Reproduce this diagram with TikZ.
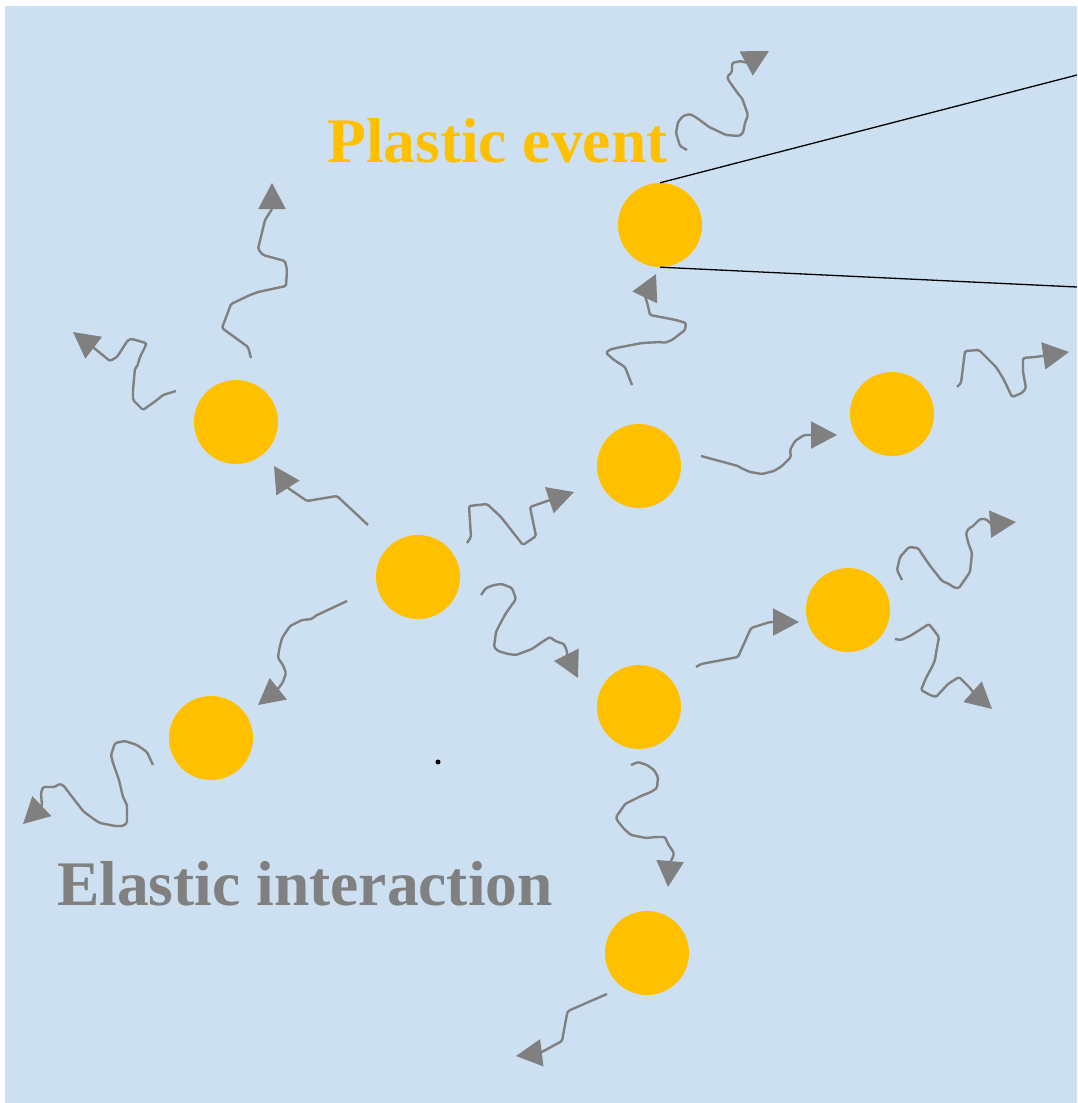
\documentclass[tikz,border=0pt]{standalone}
\usepackage{fontspec}
\setmainfont{Liberation Serif}
\usetikzlibrary{arrows.meta}
\definecolor{panel}{RGB}{204,224,241}
\definecolor{grain}{RGB}{255,192,0}
\definecolor{wavegray}{RGB}{128,128,128}
\tikzset{
  grainnode/.style={circle, fill=grain, draw=none, minimum size=84pt, inner sep=0pt},
  wave/.style={draw=wavegray, line width=2.4pt, line join=round, rounded corners=1.5pt,
    -{Triangle[length=26pt,width=27pt]}},
  zoomline/.style={draw=black, line width=1.3pt},
  label/.style={inner sep=0pt, anchor=base west, font=\bfseries\fontsize{63.5}{70}\selectfont}
}
\begin{document}
\begin{tikzpicture}[x=1pt, y=-1pt]
\useasboundingbox (0,0) rectangle (1077,1103);
\fill[panel] (5,6) rectangle (1077,1103);

% grains
\node[grainnode] (c1) at (660,225) {};
\node[grainnode] (c2) at (236,422) {};
\node[grainnode] (c3) at (418,577) {};
\node[grainnode] (c4) at (639,466) {};
\node[grainnode] (c5) at (892,414) {};
\node[grainnode] (c6) at (211,738) {};
\node[grainnode] (c7) at (639,707) {};
\node[grainnode] (c8) at (848,610) {};
\node[grainnode] (c9) at (647,953) {};

% zoom-in lines from the plastic grain
\coordinate (zt) at (1077,75);
\coordinate (zb) at (1077,287);
\draw[zoomline] (c1.north) -- (zt);
\draw[zoomline] (c1.south) -- (zb);

% small marker dot
\node[circle, fill=black, inner sep=0pt, minimum size=5pt] (mk) at (438,762) {};

% labels
\node[label, text=grain] (plastic) at (327,162) {Plastic event};
\node[label, text=wavegray] (elastic) at (57,905) {Elastic interaction};

% elastic waves: start and tip of each
\coordinate (as) at (251,358); \coordinate (at) at (272,183);
\coordinate (bs) at (176,391); \coordinate (bt) at (73,332);
\coordinate (cs) at (368,525); \coordinate (ct) at (274,466);
\coordinate (ds) at (467,543); \coordinate (dt) at (574,492);
\coordinate (es) at (481,595); \coordinate (et) at (578,678);
\coordinate (fs) at (347,601); \coordinate (ft) at (258,705);
\coordinate (gs) at (153,765); \coordinate (gt) at (23,824);
\coordinate (hs) at (632,385); \coordinate (ht) at (656,274);
\coordinate (is) at (701,456); \coordinate (it) at (837,435);
\coordinate (js) at (957,387); \coordinate (jt) at (1069,352);
\coordinate (ks) at (687,150); \coordinate (kt) at (769,51);
\coordinate (ls) at (696,667); \coordinate (lt) at (799,622);
\coordinate (ms) at (902,580); \coordinate (mt) at (1016,522);
\coordinate (ns) at (895,639); \coordinate (nt) at (992,709);
\coordinate (os) at (631,765); \coordinate (ot) at (668,887);
\coordinate (ps) at (607,994); \coordinate (pt) at (516,1056);

\draw[wave] (as) -- (248,347) -- (222,328) -- (231,304) -- (250,295) -- (258,292) -- (286,286) -- (287,270) -- (285,261) -- (263,255) -- (258,249) -- (265,220) -- (272,209) -- (at);
\draw[wave] (bs) -- (163,395) -- (157,400) -- (143,410) -- (133,400) -- (133,390) -- (135,368) -- (137,367) -- (140,357) -- (146,345) -- (146,343) -- (132,339) -- (128,340) -- (117,357) -- (110,361) -- (94,348) -- (bt);
\draw[wave] (cs) -- (337,496) -- (307,501) -- (288,488) -- (ct);
\draw[wave] (ds) -- (471,537) -- (469,506) -- (487,504) -- (501,517) -- (508,526) -- (523,545) -- (536,536) -- (530,507) -- (550,500) -- (dt);
\draw[wave] (es) -- (486,588) -- (494,585) -- (502,584) -- (512,588) -- (516,599) -- (506,613) -- (500,624) -- (496,632) -- (494,647) -- (498,651) -- (508,654) -- (516,655) -- (532,649) -- (542,642) -- (550,637) -- (555,641) -- (564,644) -- (567,651) -- (567,656) -- (et);
\draw[wave] (fs) -- (315,616) -- (312,619) -- (302,620) -- (290,626) -- (282,638) -- (279,650) -- (278,658) -- (283,665) -- (286,673) -- (283,682) -- (278,689) -- (ft);
\draw[wave] (gs) -- (147,752) -- (137,745) -- (125,741) -- (115,743) -- (111,755) -- (113,763) -- (119,780) -- (123,797) -- (127,805) -- (127,823) -- (123,826) -- (115,826) -- (100,823) -- (95,820) -- (83,811) -- (80,807) -- (63,785) -- (59,784) -- (55,787) -- (43,787) -- (41,793) -- (42,806) -- (gt);
\draw[wave] (hs) -- (625,367) -- (614,360) -- (606,353) -- (609,350) -- (616,348) -- (642,343) -- (661,342) -- (664,343) -- (672,340) -- (685,330) -- (686,323) -- (676,320) -- (650,315) -- (647,302) -- (645,297) -- (ht);
\draw[wave] (is) -- (738,466) -- (741,468) -- (750,472) -- (762,474) -- (774,471) -- (782,466) -- (791,457) -- (790,450) -- (795,441) -- (804,435) -- (812,435) -- (it);
\draw[wave] (js) -- (961,383) -- (963,367) -- (965,351) -- (979,350) -- (987,358) -- (996,367) -- (998,370) -- (1004,380) -- (1012,397) -- (1022,393) -- (1026,388) -- (1023,372) -- (1023,358) -- (1035,357) -- (1045.5,355.5) -- (jt);
\draw[wave] (ks) -- (680,146) -- (676,133) -- (678,122) -- (683,116) -- (690,114) -- (697,118) -- (709,127) -- (724,134) -- (726,135) -- (739,136) -- (743,133) -- (745,123) -- (748,115) -- (742,98) -- (739,95) -- (729,81) -- (727,77) -- (732,72) -- (732,63) -- (741,61) -- (747,63) -- (kt);
\draw[wave] (ls) -- (701,664) -- (738,657) -- (751,628) -- (770,622) -- (773,622) -- (lt);
\draw[wave] (ms) -- (897,570) -- (900,557) -- (909,547) -- (918,548) -- (926,560) -- (931,567) -- (942,581) -- (949,584) -- (955,588) -- (959,588) -- (970,572) -- (972,553) -- (968,542) -- (966,533) -- (969,528) -- (972,527) -- (980,519) -- (986,519) -- (991,524) -- (mt);
\draw[wave] (ns) -- (901,640) -- (910,636) -- (929,624) -- (939,637) -- (936,653) -- (935,660) -- (932,667) -- (926,678) -- (921,690) -- (930,695) -- (936,697) -- (948,684) -- (959,677) -- (970,688) -- (973.5,692.5) -- (nt);
\draw[wave] (os) -- (638,762) -- (647,765) -- (654,770) -- (658,777) -- (657,788) -- (651,792) -- (641,796) -- (631,801) -- (625,804) -- (621,810) -- (616,817) -- (617,820) -- (624,829) -- (631,835) -- (646,838) -- (656,837) -- (665,837) -- (668,844) -- (674,853) -- (673,857) -- (670,862.5) -- (ot);
\draw[wave] (ps) -- (600,997) -- (568,1011) -- (567,1014) -- (562,1041) -- (540,1053) -- (pt);
\end{tikzpicture}
\end{document}
